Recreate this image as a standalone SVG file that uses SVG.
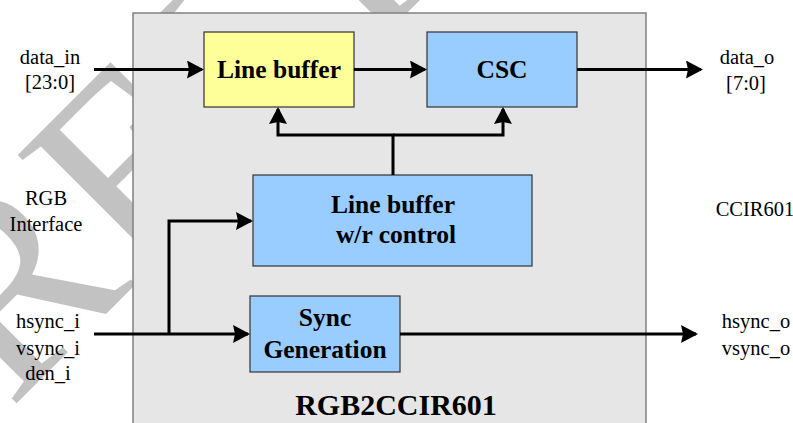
<svg xmlns="http://www.w3.org/2000/svg" width="793" height="423" viewBox="0 0 793 423">
<defs>
<style>
.lbl{font-family:"Liberation Serif","Times New Roman",serif;font-size:20.5px;fill:#000;text-anchor:middle}
.bt{font-family:"Liberation Serif","Times New Roman",serif;font-size:25.5px;font-weight:bold;fill:#000;text-anchor:middle}
.box{stroke:#333;stroke-width:1.2}
.c{fill:none;stroke:#000;stroke-width:3}
.wm{font-family:"Liberation Serif","Times New Roman",serif;font-size:267px;fill:#c2c2c2}
</style>
<marker id="ah" markerUnits="userSpaceOnUse" markerWidth="18" markerHeight="18" refX="15" refY="9" orient="auto">
<path d="M0,0 L17,9 L0,18 L2,9 z" fill="#000"/>
</marker>
</defs>
<rect width="793" height="423" fill="#fff"/>
<g id="watermark">
<text class="wm" transform="translate(-95,515) rotate(-45)">PRELIMINARY</text>
</g>
<g id="frame">
<rect x="133" y="13" width="513" height="420" fill="#e6e6e6" stroke="#808080" stroke-width="1.5"/>
<text x="396" y="415" font-family="Liberation Serif, Times New Roman, serif" font-size="30" font-weight="bold" text-anchor="middle">RGB2CCIR601</text>
</g>
<g id="labels">
<text class="lbl" x="50" y="64">data_in</text>
<text class="lbl" x="50" y="89">[23:0]</text>
<text class="lbl" x="46" y="205">RGB</text>
<text class="lbl" x="46" y="231">Interface</text>
<text class="lbl" x="48" y="328">hsync_i</text>
<text class="lbl" x="48" y="355">vsync_i</text>
<text class="lbl" x="48" y="380">den_i</text>
<text class="lbl" x="747" y="64">data_o</text>
<text class="lbl" x="746" y="90">[7:0]</text>
<text class="lbl" x="755" y="216">CCIR601</text>
<text class="lbl" x="756" y="328">hsync_o</text>
<text class="lbl" x="756" y="355">vsync_o</text>
</g>
<g id="line_buffer">
<rect class="box" x="204" y="32" width="150" height="75" fill="#ffff99"/>
<text class="bt" x="279" y="78">Line buffer</text>
</g>
<g id="csc">
<rect class="box" x="427" y="32" width="150" height="75" fill="#99ccff"/>
<text class="bt" x="502" y="78">CSC</text>
</g>
<g id="lb_ctrl">
<rect class="box" x="253" y="175" width="279" height="91" fill="#99ccff"/>
<text class="bt" x="393" y="213">Line buffer</text>
<text class="bt" x="396" y="243">w/r control</text>
</g>
<g id="sync_gen">
<rect class="box" x="250" y="296" width="150" height="76" fill="#99ccff"/>
<text class="bt" x="325" y="326">Sync</text>
<text class="bt" x="325" y="358">Generation</text>
</g>
<g id="connectors">
<path class="c" d="M94,69.5 H202" marker-end="url(#ah)"/>
<path class="c" d="M354,69.5 H425" marker-end="url(#ah)"/>
<path class="c" d="M577,69.5 H701" marker-end="url(#ah)"/>
<path class="c" d="M393,175 V135 H278 V109" marker-end="url(#ah)"/>
<path class="c" d="M393,135 H503 V109" marker-end="url(#ah)"/>
<path class="c" d="M94,334 H248" marker-end="url(#ah)"/>
<path class="c" d="M169,334 V221 H251" marker-end="url(#ah)"/>
<path class="c" d="M400,334 H696" marker-end="url(#ah)"/>
</g>
</svg>
